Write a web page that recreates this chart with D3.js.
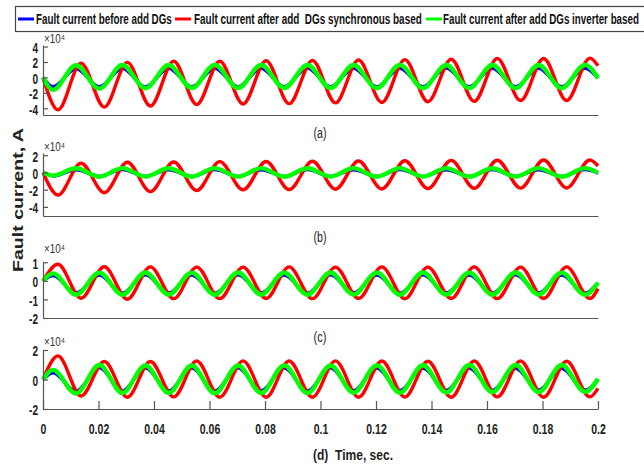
<!DOCTYPE html>
<html>
<head>
<meta charset="utf-8">
<script src="https://cdn.jsdelivr.net/npm/d3@7"></script>
<style>
  body { margin: 0; background: #fff; }
  svg { display: block; }
</style>
</head>
<body>
<div id="chart"></div>
<script>
var svgW = 644, svgH = 465;

// times of the peaks / troughs (s), with both ends
var tBG  = [0, 0.0036, 0.0119, 0.0203, 0.0286, 0.0369, 0.0453, 0.0536, 0.0619, 0.0703, 0.0786, 0.0869, 0.0953,
            0.1036, 0.1119, 0.1203, 0.1286, 0.1369, 0.1453, 0.1536, 0.1619, 0.1703, 0.1786, 0.1869, 0.1953, 0.2];
var tRed = [0, 0.0054, 0.0137, 0.0221, 0.0304, 0.0387, 0.0471, 0.0554, 0.0637, 0.0721, 0.0804, 0.0887, 0.0971,
            0.1054, 0.1137, 0.1221, 0.1304, 0.1387, 0.1471, 0.1554, 0.1637, 0.1721, 0.1804, 0.1887, 0.1971, 0.2];

// values at those times (x10^4 A)
var blueA  = [0, -1.2, 1.15, -1.2, 1.18, -1.22, 1.17, -1.2, 1.18, -1.21, 1.18, -1.2, 1.19, -1.2, 1.18, -1.21, 1.18, -1.2, 1.19, -1.2, 1.18, -1.2, 1.18, -1.2, 1.18, -0.1];
var greenA = [0, -1.62, 1.58, -1.45, 1.6, -1.4, 1.6, -1.38, 1.62, -1.38, 1.6, -1.37, 1.6, -1.38, 1.6, -1.4, 1.62, -1.4, 1.6, -1.4, 1.6, -1.4, 1.6, -1.4, 1.62, -0.1];
var redA   = [0, -4.2, 1.85, -3.85, 1.95, -3.7, 2.1, -3.5, 2.1, -3.45, 2.15, -3.4, 2.2, -3.3, 2.25, -3.25, 2.3, -3.15, 2.35, -3.1, 2.45, -3.0, 2.45, -3.0, 2.5, 1.5];

var blueB  = [0, -0.42, 0.3, -0.45, 0.32, -0.44, 0.3, -0.45, 0.32, -0.44, 0.31, -0.45, 0.32, -0.44, 0.3, -0.45, 0.32, -0.44, 0.31, -0.45, 0.32, -0.44, 0.31, -0.45, 0.32, -0.08];
var greenB = [0, -0.35, 0.48, -0.5, 0.5, -0.48, 0.49, -0.5, 0.5, -0.49, 0.5, -0.5, 0.49, -0.48, 0.5, -0.5, 0.5, -0.49, 0.5, -0.5, 0.49, -0.48, 0.5, -0.5, 0.5, -0.05];
var redB   = [0, -2.62, 1.07, -2.35, 1.19, -2.23, 1.22, -2.1, 1.26, -2.03, 1.28, -2.0, 1.3, -1.95, 1.33, -1.92, 1.36, -1.88, 1.4, -1.85, 1.42, -1.82, 1.45, -1.8, 1.45, 0.75];

var blueC  = [0, 0.28, -0.65, 0.31, -0.66, 0.32, -0.65, 0.31, -0.66, 0.32, -0.65, 0.31, -0.66, 0.32, -0.65, 0.31, -0.66, 0.32, -0.65, 0.31, -0.66, 0.32, -0.65, 0.31, -0.66, -0.12];
var greenC = [0, 0.4, -0.75, 0.44, -0.75, 0.45, -0.74, 0.44, -0.75, 0.45, -0.74, 0.44, -0.75, 0.45, -0.74, 0.44, -0.75, 0.45, -0.74, 0.44, -0.75, 0.45, -0.74, 0.44, -0.75, -0.1];
var redC   = [0, 0.89, -0.94, 0.76, -0.99, 0.75, -0.96, 0.74, -0.96, 0.74, -0.95, 0.75, -0.96, 0.74, -0.95, 0.75, -0.96, 0.74, -0.95, 0.75, -0.96, 0.74, -0.95, 0.75, -0.95, -0.42];

var blueD  = [0, 0.45, -0.8, 0.8, -0.78, 0.78, -0.77, 0.78, -0.77, 0.78, -0.76, 0.78, -0.77, 0.78, -0.76, 0.77, -0.75, 0.77, -0.74, 0.77, -0.73, 0.76, -0.72, 0.76, -0.72, -0.05];
var greenD = [0, 0.65, -0.95, 0.98, -0.92, 0.95, -0.92, 0.95, -0.93, 0.95, -0.92, 0.96, -0.92, 0.95, -0.9, 0.96, -0.9, 0.97, -0.88, 0.98, -0.86, 0.98, -0.85, 0.98, -0.84, 0.05];
var redD   = [0, 1.6, -1.12, 1.22, -1.2, 1.22, -1.18, 1.25, -1.2, 1.26, -1.2, 1.25, -1.2, 1.26, -1.2, 1.25, -1.19, 1.24, -1.2, 1.25, -1.18, 1.25, -1.2, 1.24, -1.18, -0.6];

var yTicksA = [-4, -2, 0, 2, 4];
var yTicksB = [-4, -2, 0, 2];
var yTicksC = [-2, -1, 0, 1];
var yTicksD = [-2, 0, 2];
var xTicks = [0, 0.02, 0.04, 0.06, 0.08, 0.1, 0.12, 0.14, 0.16, 0.18, 0.2];
var xTickLabels = ["0", "0.02", "0.04", "0.06", "0.08", "0.1", "0.12", "0.14", "0.16", "0.18", "0.2"];

var legendLabels = ["Fault current before add DGs",
                    "Fault current after add  DGs synchronous based",
                    "Fault current after add DGs inverter based"];
var colors = ["#0000ff", "#ff0000", "#00ff00"];

var svg = d3.select("#chart").append("svg")
    .attr("width", svgW).attr("height", svgH)
    .style("font-family", "'Liberation Sans', Arial, sans-serif");

var x = d3.scaleLinear().domain([0, 0.2]).range([43, 598]);

var panels = [
  {top: 45,  bottom: 115, dom: [-4.87, 4.2],  ticks: yTicksA, s: [blueA, redA, greenA], tag: "(a)", tagY: 138, expY: 42.5},
  {top: 153, bottom: 216, dom: [-5.06, 2.26], ticks: yTicksB, s: [blueB, redB, greenB], tag: "(b)", tagY: 242, expY: 150.5},
  {top: 261.5, bottom: 318, dom: [-2, 1.04],  ticks: yTicksC, s: [blueC, redC, greenC], tag: "(c)", tagY: 342, expY: 252.5},
  {top: 350, bottom: 409, dom: [-2, 2],       ticks: yTicksD, s: [blueD, redD, greenD], tag: null,  tagY: 0,   expY: 346}
];

function squeeze(sel, f) {
  sel.each(function() {
    var n = this.getComputedTextLength();
    d3.select(this).attr("textLength", n * f).attr("lengthAdjust", "spacingAndGlyphs");
  });
}

// narrow text by scaling the group it sits in, to a given width
function narrowText(parent, tx, ty, w, str) {
  var gg = parent.append("g");
  var t = gg.append("text").attr("x", 0).attr("y", 0).attr("xml:space", "preserve").text(str);
  return {g: gg, t: t, fit: function() {
    var n = t.node().getComputedTextLength();
    gg.attr("transform", `translate(${tx},${ty}) scale(${w / n},1)`);
    return t;
  }};
}

panels.forEach(function(p, pi) {
  var y = d3.scaleLinear().domain(p.dom).range([p.bottom, p.top]);
  var g = svg.append("g");

  var line = d3.line().x(d => x(d[0])).y(d => y(d[1])).curve(d3.curveMonotoneX);
  var widths = [3.2, 3.4, 4.4];
  p.s.forEach(function(vals, i) {
    var tt = i == 1 ? tRed : tBG;
    g.append("path")
      .datum(d3.zip(tt, vals))
      .attr("d", line)
      .attr("fill", "none")
      .attr("stroke", colors[i])
      .attr("stroke-width", widths[i])
      .attr("stroke-linejoin", "round");
  });

  var ya = g.append("g").attr("transform", "translate(43,0)")
    .call(d3.axisLeft(y).tickValues(p.ticks).tickSizeInner(-5).tickSizeOuter(0).tickPadding(5)
      .tickFormat(d => String(d)));
  ya.selectAll("text").attr("font-size", 14).attr("font-weight", "bold")
    .attr("fill", "#222").attr("dy", "0.42em").attr("font-family", "'Liberation Sans', Arial, sans-serif");
  squeeze(ya.selectAll("text"), 0.72);

  var xa;
  if (pi == 3) {
    xa = g.append("g").attr("transform", `translate(0,${p.bottom})`)
      .call(d3.axisBottom(x).tickValues(xTicks).tickSizeInner(-8).tickSizeOuter(0).tickPadding(14)
        .tickFormat((d, i) => xTickLabels[i]));
    xa.selectAll("text").attr("font-size", 15).attr("font-weight", "bold")
      .attr("fill", "#222").attr("font-family", "'Liberation Sans', Arial, sans-serif");
    squeeze(xa.selectAll("text"), 0.7);
  } else {
    xa = g.append("g").attr("transform", `translate(0,${p.bottom})`)
      .call(d3.axisBottom(x).tickValues([]).tickSizeOuter(0));
  }
  g.selectAll(".domain, .tick line").attr("stroke", "#555").attr("stroke-width", 1.2);

  // x10^4 multiplier
  g.append("text").attr("x", 44).attr("y", p.expY)
    .attr("font-size", 12).attr("fill", "#333")
    .attr("textLength", 21).attr("lengthAdjust", "spacingAndGlyphs")
    .text("\u00d710\u2074");

  if (p.tag) {
    g.append("text").attr("x", 320).attr("y", p.tagY)
      .attr("text-anchor", "middle").attr("font-size", 14).attr("fill", "#222")
      .attr("textLength", 13).attr("lengthAdjust", "spacingAndGlyphs")
      .text(p.tag);
  }
});

// y label
svg.append("text")
  .attr("transform", "translate(23,200) rotate(-90)")
  .attr("text-anchor", "middle")
  .attr("font-size", 15).attr("font-weight", "bold").attr("fill", "#222")
  .attr("textLength", 144).attr("lengthAdjust", "spacingAndGlyphs")
  .text("Fault current, A");

// x label
var xl = narrowText(svg, 313, 460, 80, "(d)  Time, sec.");
xl.t.attr("font-size", 14).attr("font-weight", "bold").attr("fill", "#222");
xl.fit();

// legend
var lg = svg.append("g");
lg.append("rect").attr("x", 15.5).attr("y", 6.5).attr("width", 640).attr("height", 25)
  .attr("fill", "#fff").attr("stroke", "#444").attr("stroke-width", 1.2);
var lineX = [18, 175, 426];
var textX = [36, 194, 443];
var textW = [136, 228, 196];
legendLabels.forEach(function(lab, i) {
  lg.append("line").attr("x1", lineX[i]).attr("x2", lineX[i] + 16)
    .attr("y1", 19).attr("y2", 19)
    .attr("stroke", colors[i]).attr("stroke-width", 3);
  var lt = narrowText(lg, textX[i], 24, textW[i], lab);
  lt.t.attr("font-size", 14).attr("font-weight", "bold").attr("fill", "#111");
  lt.fit();
});
</script>
</body>
</html>
